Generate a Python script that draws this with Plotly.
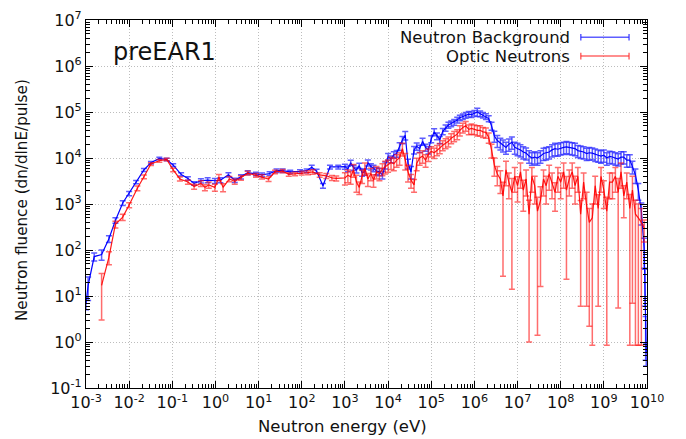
import plotly.graph_objects as go

# ---------------- data ----------------
bg_energy = [1.0e-3, 1.12e-3, 1.55e-3, 2.3e-3, 3.4e-3, 4.8e-3, 7.1e-3, 1.0e-2, 1.45e-2, 2.2e-2,
             3.2e-2, 5.0e-2, 7.4e-2, 0.105, 0.16, 0.23, 0.32, 0.46, 0.66, 0.97,
             1.3, 2.0, 2.8, 3.9, 5.6, 8.7, 12, 18, 26, 36,
             54, 91, 130, 170, 220, 310, 450, 700,
             1.0e3, 1.17e3, 1.36e3, 1.58e3, 1.85e3, 2.15e3, 2.5e3, 2.9e3, 3.4e3, 4.0e3, 4.6e3, 5.4e3, 6.3e3, 7.4e3, 8.6e3,
             1.0e4, 1.17e4, 1.36e4, 1.58e4, 1.85e4, 2.15e4, 2.5e4, 2.9e4, 3.4e4, 4.0e4, 4.6e4, 5.4e4, 6.3e4, 7.4e4, 8.6e4,
             1.0e5, 1.17e5, 1.36e5, 1.58e5, 1.85e5, 2.15e5, 2.5e5, 2.9e5, 3.4e5, 4.0e5, 4.6e5, 5.4e5, 6.3e5, 7.4e5, 8.6e5,
             1.0e6, 1.17e6, 1.36e6, 1.58e6, 1.85e6, 2.15e6, 2.5e6, 2.9e6, 3.4e6, 4.0e6, 4.6e6, 5.4e6, 6.3e6, 7.4e6, 8.6e6,
             1.0e7, 1.17e7, 1.36e7, 1.58e7, 1.85e7, 2.15e7, 2.5e7, 2.9e7, 3.4e7, 4.0e7, 4.6e7, 5.4e7, 6.3e7, 7.4e7, 8.6e7,
             1.0e8, 1.17e8, 1.36e8, 1.58e8, 1.85e8, 2.15e8, 2.5e8, 2.9e8, 3.4e8, 4.0e8, 4.6e8, 5.4e8, 6.3e8, 7.4e8, 8.6e8,
             1.0e9, 1.17e9, 1.36e9, 1.58e9, 1.85e9, 2.15e9, 2.5e9, 2.9e9, 3.4e9, 4.0e9, 4.6e9, 5.4e9, 6.3e9, 7.4e9, 8.6e9,
             9.0e9, 9.3e9, 9.6e9]
bg_fluence = [7, 17, 72, 80, 175, 440, 1050, 1700, 3000, 5500,
              7900, 9800, 9300, 7000, 4400, 3600, 2800, 3200, 3300, 3200,
              3300, 4300, 3300, 3900, 4800, 4500, 4300, 4600, 5300, 5300,
              5000, 5100, 5300, 6300, 5200, 2500, 6400, 6400,
              6500, 5800, 7900, 6200, 5500, 6800, 4800, 5000, 7900, 6500, 6000, 5200, 5000, 4300, 7000,
              10700, 9500, 11800, 12500, 18000, 25000, 31000, 7600, 5000, 15000, 18000, 16000, 23000, 17000, 15000,
              26000, 37000, 30000, 25000, 38000, 45000, 52000, 56000, 60000, 67000, 75000, 80000, 85000, 90000, 88000,
              95000, 100000, 92000, 86000, 80000, 72000, 50000, 30000, 24000, 21000, 19000, 17000, 20000, 22000, 17000,
              16000, 15000, 13500, 12800, 11000, 10000, 10500, 10000, 11000, 12500, 13000, 13500, 15000, 16000, 15500,
              16500, 17000, 17500, 17000, 16500, 16000, 14500, 14000, 13500, 12500, 13000, 12800, 12000, 11500, 11000,
              11500, 10000, 10800, 10500, 10000, 9500, 10500, 10500, 9000, 9000, 6500, 4300, 2000, 700, 110,
              22, 2, 0.6]
bg_error = [2, 9, 14, 20, 30, 60, 120, 180, 250, 400,
            500, 600, 600, 500, 350, 300, 250, 350, 400, 400,
            400, 450, 350, 400, 450, 400, 400, 400, 450, 450,
            400, 450, 500, 700, 500, 300, 600, 600,
            800, 800, 1000, 800, 800, 900, 800, 800, 1200, 1000, 1000, 900, 900, 800, 1200,
            1800, 1600, 1900, 2100, 3500, 4500, 6500, 1800, 1500, 2800, 3300, 2900, 4000, 3000, 2800,
            4500, 6500, 5000, 4500, 6000, 7000, 7500, 8000, 8500, 9500, 10500, 11000, 12000, 12500, 12000,
            13000, 20000, 13000, 12000, 11500, 10500, 10000, 8000, 7000, 6000, 5500, 5000, 6000, 6500, 5000,
            4800, 4500, 4000, 3800, 3300, 3000, 3100, 3000, 3300, 3700, 3900, 4000, 4500, 4800, 4600,
            4900, 5100, 5200, 5100, 4900, 4800, 4300, 4200, 4000, 3700, 3900, 3800, 3600, 3400, 3300,
            3400, 3000, 3200, 3100, 3000, 2800, 3100, 3100, 2700, 2700, 2000, 1500, 800, 350, 70,
            16, 1.6, 0.3]

opt_energy = [2.3e-3, 3.4e-3, 4.8e-3, 7.1e-3, 1.0e-2, 1.55e-2, 2.2e-2, 3.2e-2, 5.0e-2, 7.4e-2,
              0.105, 0.15, 0.23, 0.32, 0.46, 0.57, 0.70, 0.97, 1.2, 1.5,
              2.1, 2.8, 3.9, 5.6, 8.7, 12, 17, 24, 36, 50,
              70, 100, 140, 180, 260, 370, 500, 630,
              1.0e3, 1.17e3, 1.36e3, 1.58e3, 1.85e3, 2.15e3, 2.5e3, 2.9e3, 3.4e3, 4.0e3, 4.6e3, 5.4e3, 6.3e3, 7.4e3, 8.6e3,
              1.0e4, 1.17e4, 1.36e4, 1.58e4, 1.85e4, 2.15e4, 2.5e4, 2.9e4, 3.4e4, 4.0e4, 4.6e4, 5.4e4, 6.3e4, 7.4e4, 8.6e4,
              1.0e5, 1.17e5, 1.36e5, 1.58e5, 1.85e5, 2.15e5, 2.5e5, 2.9e5, 3.4e5, 4.0e5, 4.6e5, 5.4e5, 6.3e5, 7.4e5, 8.6e5,
              1.0e6, 1.17e6, 1.36e6, 1.58e6, 1.85e6, 2.15e6, 2.5e6, 2.9e6, 3.4e6, 4.0e6, 4.6e6, 5.4e6, 6.3e6, 7.4e6, 8.6e6,
              1.0e7, 1.17e7, 1.36e7, 1.58e7, 1.85e7, 2.15e7, 2.5e7, 2.9e7, 3.4e7, 4.0e7, 4.6e7, 5.4e7, 6.3e7, 7.4e7, 8.6e7,
              1.0e8, 1.17e8, 1.36e8, 1.58e8, 1.85e8, 2.15e8, 2.5e8, 2.9e8, 3.4e8, 4.0e8, 4.6e8, 5.4e8, 6.3e8, 7.4e8, 8.6e8,
              1.0e9, 1.17e9, 1.36e9, 1.58e9, 1.85e9, 2.15e9, 2.5e9, 2.9e9, 3.4e9, 4.0e9, 4.6e9, 5.4e9, 6.3e9, 7.4e9, 8.6e9]
opt_fluence = [17, 70, 360, 520, 950, 2200, 3900, 7400, 8700, 9300,
               5500, 3500, 3000, 2400, 2800, 2300, 2600, 2300, 3800, 2300,
               3500, 3100, 3700, 4700, 4200, 3900, 3500, 5000, 5200, 4400,
               4500, 4700, 4800, 5000, 4300, 4100, 3700, 3600,
               3700, 4200, 3900, 5500, 3000, 2300, 4100, 6000, 3500, 4600, 3300, 5000, 4600, 5800, 6500,
               7000, 8000, 7500, 9000, 10000, 16000, 9000, 5000, 3300, 2600, 7600, 10000, 11000, 9000, 12000,
               14000, 13000, 15000, 16500, 19000, 21000, 23000, 27000, 30000, 33000, 40000, 46000, 50000, 42000, 44000,
               42000, 40000, 40000, 37000, 36000, 28000, 15000, 7000, 4500, 3500, 1500, 5500, 3000, 1800, 4000,
               2500, 5000, 2000, 3500, 600, 4000, 2500, 700, 1200, 3500, 2500, 4500, 3000, 1800, 4000,
               3000, 5000, 2000, 3500, 5000, 2500, 4000, 600, 3000, 900, 400, 500, 2500, 800, 4000,
               2000, 700, 3000, 3000, 4000, 1800, 5000, 1500, 3000, 800, 2000, 600, 500, 400, 300]
opt_error = [14, 22, 60, 80, 120, 250, 350, 500, 600, 600,
             450, 350, 300, 300, 400, 350, 400, 400, 600, 450,
             450, 400, 400, 450, 400, 400, 400, 450, 450, 400,
             400, 450, 500, 550, 500, 500, 450, 450,
             1100, 1300, 1200, 1700, 1200, 700, 1300, 1800, 1100, 1400, 1000, 1500, 1400, 1700, 2000,
             2100, 2400, 2200, 2700, 3000, 5000, 3500, 2000, 1100, 800, 2300, 3000, 3300, 2700, 3600,
             3500, 3300, 3800, 4100, 4700, 5200, 5700, 6700, 7500, 8200, 10000, 11000, 12000, 10000, 11000,
             10000, 10000, 10000, 9000, 9000, 7000, 5000, 3000, 2000, 1800, 1473, 3000, 1700, 1786, 2200,
             1400, 2800, 1300, 2000, 599, 2200, 1500, 698.6, 1184, 2000, 1500, 2500, 1700, 1100, 2200,
             1700, 2800, 1977, 2000, 2800, 1500, 2200, 594, 1700, 894, 397.8, 499.15, 1500, 794, 2200,
             1200, 699.15, 1700, 1700, 2200, 1794.5, 2800, 1000, 1700, 799.15, 1993, 599.15, 499.15, 399.15, 150]

x_tick_exponents = list(range(-3, 11))
y_tick_exponents = list(range(-1, 8))

# ---------------- figure ----------------
FONT = "DejaVu Sans"
TXT = "#111111"
fig = go.Figure()

fig.add_trace(go.Scatter(
    x=bg_energy, y=bg_fluence, mode="lines", name="Neutron Background",
    line=dict(color="rgb(0,0,255)", width=1.2),
    error_y=dict(type="data", array=bg_error, visible=True,
                 color="rgba(40,40,255,0.75)", thickness=1.5, width=3),
    showlegend=False,
))
fig.add_trace(go.Scatter(
    x=opt_energy, y=opt_fluence, mode="lines", name="Optic Neutrons",
    line=dict(color="rgba(255,0,0,0.9)", width=1.2),
    error_y=dict(type="data", array=opt_error, visible=True,
                 color="rgba(255,20,20,0.62)", thickness=1.5, width=3),
    showlegend=False,
))

def sup_label(e):
    return "10<sup>%d</sup>" % e

x_minor = [m * 10.0 ** e for e in range(-3, 10) for m in range(2, 10)]
y_minor = [m * 10.0 ** e for e in range(-1, 7) for m in range(2, 10)]

axis_common = dict(
    type="log", showline=True, linecolor="black", linewidth=1.2, mirror="allticks",
    ticks="inside", ticklen=7, tickwidth=1, tickcolor="black",
    showgrid=True, gridcolor="#bdbdbd", griddash="1px,2px", gridwidth=1,
    zeroline=False, tickfont=dict(family=FONT, size=16, color=TXT),
    automargin=False,
)

fig.update_xaxes(
    **axis_common,
    range=[-3, 10],
    tickmode="array", tickvals=[10.0 ** e for e in x_tick_exponents],
    ticktext=[sup_label(e) for e in x_tick_exponents],
    minor=dict(ticks="inside", ticklen=3.5, tickcolor="black", tickmode="array",
               tickvals=x_minor, showgrid=False),
)
fig.update_yaxes(
    **axis_common,
    range=[-1, 7],
    tickmode="array", tickvals=[10.0 ** e for e in y_tick_exponents],
    ticktext=[sup_label(e) for e in y_tick_exponents],
    minor=dict(ticks="inside", ticklen=3.5, tickcolor="black", tickmode="array",
               tickvals=y_minor, showgrid=False),
)

# axis titles (placed like gnuplot: x label centred on the canvas)
fig.add_annotation(x=0.458, y=-0.1033, xref="paper", yref="paper", text="Neutron energy (eV)",
                   showarrow=False, xanchor="center", yanchor="middle",
                   font=dict(family=FONT, size=16.5, color=TXT))
fig.add_annotation(x=-0.114, y=0.511, xref="paper", yref="paper",
                   text="Neutron fluence (dn/dlnE/pulse)", textangle=-90,
                   showarrow=False, xanchor="center", yanchor="middle",
                   font=dict(family=FONT, size=15.2, color=TXT))

# label inside plot
fig.add_annotation(x=-1.19, y=6.30, xref="x", yref="y", text="preEAR1",
                   showarrow=False, font=dict(family=FONT, size=24, color=TXT))

# gnuplot-style legend: text on left, sample on right
legend_rows = [("Neutron Background", "rgba(40,40,255,0.75)", 0.953),
               ("Optic Neutrons", "rgba(255,40,40,0.7)", 0.902)]
for label, col, yp in legend_rows:
    fig.add_annotation(x=0.866, y=yp, xref="paper", yref="paper", text=label,
                       showarrow=False, xanchor="right", yanchor="middle",
                       font=dict(family=FONT, size=16.5, color=TXT))
    fig.add_shape(type="line", xref="paper", yref="paper", x0=0.882, x1=0.968, y0=yp, y1=yp,
                  line=dict(color=col, width=1.5))
    for xp in (0.882, 0.968):
        fig.add_shape(type="line", xref="paper", yref="paper", x0=xp, x1=xp,
                      y0=yp - 0.009, y1=yp + 0.009, line=dict(color=col, width=1.5))

fig.update_layout(
    width=686, height=439,
    margin=dict(l=86, r=39, t=20, b=51),
    paper_bgcolor="white", plot_bgcolor="white",
    font=dict(family=FONT, size=15, color=TXT),
)

fig.write_html("out.html")
